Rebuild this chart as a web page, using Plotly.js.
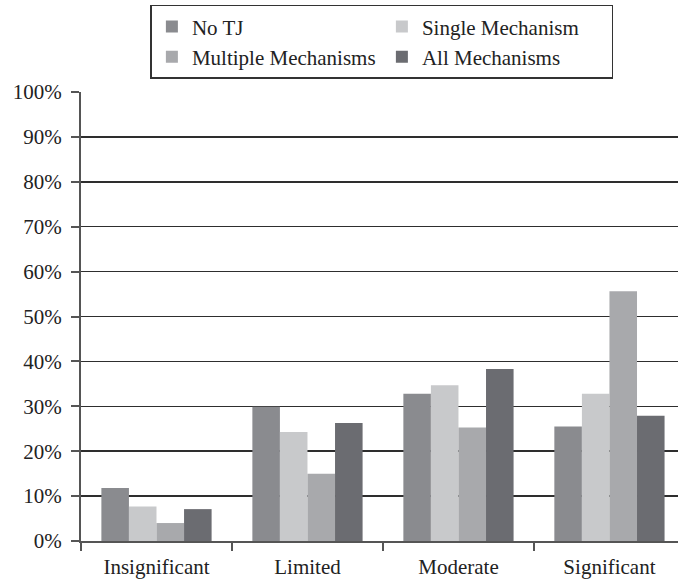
<!DOCTYPE html>
<html>
<head>
<meta charset="utf-8">
<script src="https://cdn.plot.ly/plotly-3.0.1.min.js"></script>
<style>html,body{margin:0;padding:0;background:#fff;}#chart{width:678px;height:581px;}</style>
</head>
<body>
<div id="chart"></div>
<script>
const categories = ["Insignificant", "Limited", "Moderate", "Significant"];
const seriesNames = ["No TJ", "Single Mechanism", "Multiple Mechanisms", "All Mechanisms"];
const noTJ = [11.8, 29.9, 32.8, 25.5];
const singleMech = [7.7, 24.3, 34.7, 32.8];
const multipleMech = [4.0, 15.0, 25.3, 55.6];
const allMech = [7.1, 26.3, 38.3, 27.9];
const yTickVals = [0, 10, 20, 30, 40, 50, 60, 70, 80, 90, 100];
const yTickText = ["0%", "10%", "20%", "30%", "40%", "50%", "60%", "70%", "80%", "90%", "100%"];

const colors = ["#8a8b8f", "#c8c9cb", "#a8a9ac", "#6b6c71"];
const values = [noTJ, singleMech, multipleMech, allMech];
const font = "Liberation Serif, Times New Roman, serif";

const traces = values.map((v, i) => ({
  type: "bar",
  name: seriesNames[i],
  x: categories,
  y: v,
  marker: {color: colors[i], line: {width: 0}},
  hoverinfo: "none"
}));

const layout = {
  width: 678, height: 581,
  margin: {l: 81, r: 0, t: 92, b: 40},
  paper_bgcolor: "#fff", plot_bgcolor: "#fff",
  barmode: "group", bargap: 0.27, bargroupgap: 0,
  font: {family: font, size: 21, color: "#222"},
  showlegend: true,
  legend: {
    orientation: "h", x: 0.504, xanchor: "center", y: 1.194, yanchor: "top",
    bordercolor: "#333", borderwidth: 1.5, bgcolor: "#fff",
    entrywidth: 185, entrywidthmode: "pixels",
    font: {family: font, size: 21, color: "#222"}
  },
  xaxis: {
    type: "category", range: [-0.5, 3.454],
    showline: true, linecolor: "#555", linewidth: 2,
    ticks: "outside", tickson: "boundaries", ticklen: 8, tickcolor: "#555", tickwidth: 2,
    ticklabelstandoff: 6,
    showgrid: false, zeroline: false,
    tickfont: {family: font, size: 21, color: "#222"}
  },
  yaxis: {
    range: [0, 100], tickmode: "array", tickvals: yTickVals, ticktext: yTickText,
    showline: true, linecolor: "#555", linewidth: 2,
    ticks: "outside", ticklen: 8, tickcolor: "#555", tickwidth: 2,
    ticklabelstandoff: 5,
    showgrid: true, gridcolor: "#2e2e2e", gridwidth: 1.5,
    zeroline: false,
    tickfont: {family: font, size: 21, color: "#222"}
  }
};

Plotly.newPlot("chart", traces, layout, {staticPlot: true, displayModeBar: false});
</script>
</body>
</html>
